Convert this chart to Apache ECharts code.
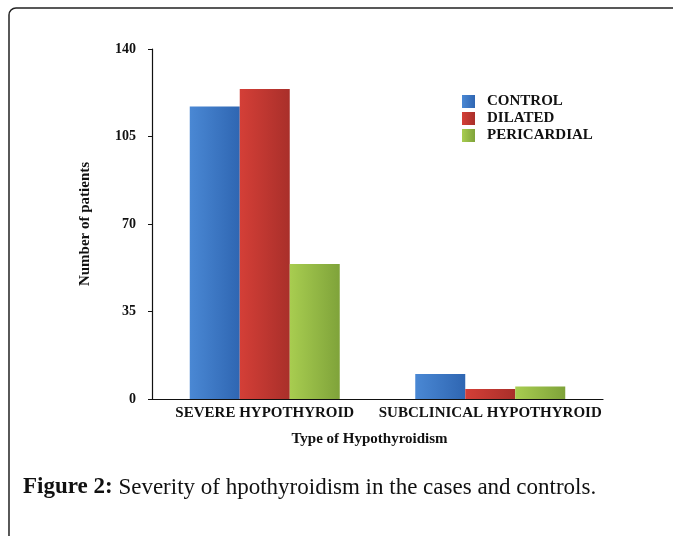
<!DOCTYPE html>
<html>
<head>
<meta charset="utf-8">
<script src="https://cdn.jsdelivr.net/npm/echarts@6/dist/echarts.min.js"></script>
<style>
html,body{margin:0;padding:0;background:#fff;}
#main{width:673px;height:536px;}
</style>
</head>
<body>
<div id="main"></div>
<script>
var categories = ['SEVERE HYPOTHYROID', 'SUBCLINICAL HYPOTHYROID'];
var controlData = [117, 10];
var dilatedData = [124, 4];
var pericardialData = [54, 5];
var yTicks = [0, 35, 70, 105, 140];

var serif = '"Liberation Serif", "Times New Roman", serif';

function grad(c1, c2) {
	return new echarts.graphic.LinearGradient(0, 0, 1, 0, [
		{offset: 0, color: c1},
		{offset: 1, color: c2}
	]);
}

var myChart = echarts.init(document.getElementById('main'));
var option = {
	backgroundColor: '#fff',
	animation: false,
	title: {
		left: 23,
		top: 476,
		padding: 0,
		text: '{b|Figure 2:} Severity of hpothyroidism in the cases and controls.',
		textStyle: {
			fontFamily: serif,
			fontSize: 23,
			fontWeight: 'normal',
			color: '#111',
			rich: {
				b: {fontFamily: serif, fontSize: 23, fontWeight: 'bold', color: '#111'}
			}
		}
	},
	graphic: [{
		type: 'rect',
		shape: {x: 9, y: 8, width: 720, height: 540, r: 7},
		style: {fill: null, stroke: '#222', lineWidth: 1.5},
		silent: true
	}],
	legend: {
		orient: 'vertical',
		left: 462,
		top: 94,
		padding: 0,
		itemWidth: 13,
		itemHeight: 13,
		itemGap: 2,
		icon: 'rect',
		data: ['CONTROL', 'DILATED', 'PERICARDIAL'],
		textStyle: {fontFamily: serif, fontSize: 15, lineHeight: 13, fontWeight: 'bold', color: '#111', padding: [0, 0, 0, 7]}
	},
	grid: {left: 152, right: 70, top: 49, bottom: 137, containLabel: false},
	xAxis: {
		type: 'category',
		data: categories,
		name: 'Type of Hypothyroidism',
		nameLocation: 'middle',
		nameGap: 33,
		nameTextStyle: {fontFamily: serif, fontSize: 15, fontWeight: 'bold', color: '#111', padding: [0, 16, 0, 0]},
		axisLine: {lineStyle: {color: '#111', width: 1.2}},
		axisTick: {show: false},
		axisLabel: {interval: 0, fontFamily: serif, fontSize: 15, fontWeight: 'bold', color: '#111', margin: 7},
		splitLine: {show: false}
	},
	yAxis: {
		type: 'value',
		min: 0,
		max: 140,
		interval: 35,
		name: 'Number of patients',
		nameLocation: 'middle',
		nameGap: 59,
		nameRotate: 90,
		nameTextStyle: {fontFamily: serif, fontSize: 15, fontWeight: 'bold', color: '#111'},
		axisLine: {show: true, lineStyle: {color: '#111', width: 1.2}},
		axisTick: {show: true, length: 4, lineStyle: {color: '#111'}},
		axisLabel: {
			fontFamily: serif, fontSize: 14, fontWeight: 'bold', color: '#111', margin: 16,
			formatter: function (v) { return yTicks.indexOf(v) >= 0 ? String(v) : ''; }
		},
		splitLine: {show: false}
	},
	series: [{
		name: 'CONTROL',
		type: 'bar',
		barWidth: 50,
		barGap: '0%',
		itemStyle: {color: grad('#4a88d4', '#2f66b2')},
		data: controlData
	}, {
		name: 'DILATED',
		type: 'bar',
		barWidth: 50,
		barGap: '0%',
		itemStyle: {color: grad('#d43f37', '#a92f2a')},
		data: dilatedData
	}, {
		name: 'PERICARDIAL',
		type: 'bar',
		barWidth: 50,
		barGap: '0%',
		itemStyle: {color: grad('#a8cd50', '#7fa33a')},
		data: pericardialData
	}]
};
myChart.setOption(option);
</script>
</body>
</html>
